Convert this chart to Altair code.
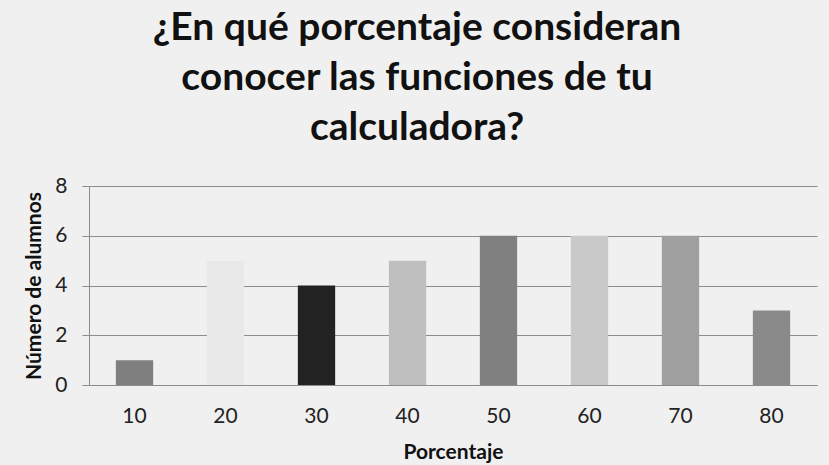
import altair as alt
import pandas as pd

# Survey results: number of students per self-reported percentage
porcentajes = ["10", "20", "30", "40", "50", "60", "70", "80"]
alumnos = [1, 5, 4, 5, 6, 6, 6, 3]
tonos = ["#7f7f7f", "#e9e9e9", "#222222", "#bfbfbf", "#808080", "#c9c9c9", "#a0a0a0", "#8a8a8a"]

df = pd.DataFrame({"Porcentaje": porcentajes, "Alumnos": alumnos})

FONT = "Lato"

bars = alt.Chart(df).mark_bar().encode(
    x=alt.X(
        "Porcentaje:N",
        sort=porcentajes,
        title="Porcentaje",
        scale=alt.Scale(paddingInner=0.59, paddingOuter=0.295),
        axis=alt.Axis(
            labelAngle=0,
            labelFont=FONT,
            labelFontSize=21,
            labelColor="#222222",
            labelPadding=20,
            ticks=False,
            domainColor="#8c8c8c",
            titleFont=FONT,
            titleFontSize=21,
            titleFontWeight="bold",
            titleColor="#111111",
            titlePadding=15,
        ),
    ),
    y=alt.Y(
        "Alumnos:Q",
        title="Número de alumnos",
        scale=alt.Scale(domain=[0, 8]),
        axis=alt.Axis(
            values=[0, 2, 4, 6, 8],
            labelFont=FONT,
            labelFontSize=21,
            labelColor="#222222",
            labelPadding=15,
            tickSize=7,
            tickColor="#8c8c8c",
            domainColor="#8c8c8c",
            gridColor="#8c8c8c",
            titleFont=FONT,
            titleFontSize=21,
            titleFontWeight="bold",
            titleColor="#111111",
            titlePadding=10,
        ),
    ),
    color=alt.Color(
        "Porcentaje:N",
        sort=porcentajes,
        scale=alt.Scale(domain=porcentajes, range=tonos),
        legend=None,
    ),
).properties(
    width=728,
    height=199,
    title=alt.TitleParams(
        text=["¿En qué porcentaje consideran", "conocer las funciones de tu", "calculadora?"],
        font=FONT,
        fontSize=39,
        fontWeight="bold",
        color="#111111",
        anchor="middle",
        lineHeight=50,
        offset=27,
        dx=-36,
    ),
)

chart = bars.configure(
    background="#f0f0f0",
    autosize=alt.AutoSizeParams(type="none"),
    padding={"left": 89, "top": 186, "right": 12, "bottom": 80},
).configure_view(stroke=None)

chart.save("out.html", embed_options={"renderer": "svg", "actions": False})
